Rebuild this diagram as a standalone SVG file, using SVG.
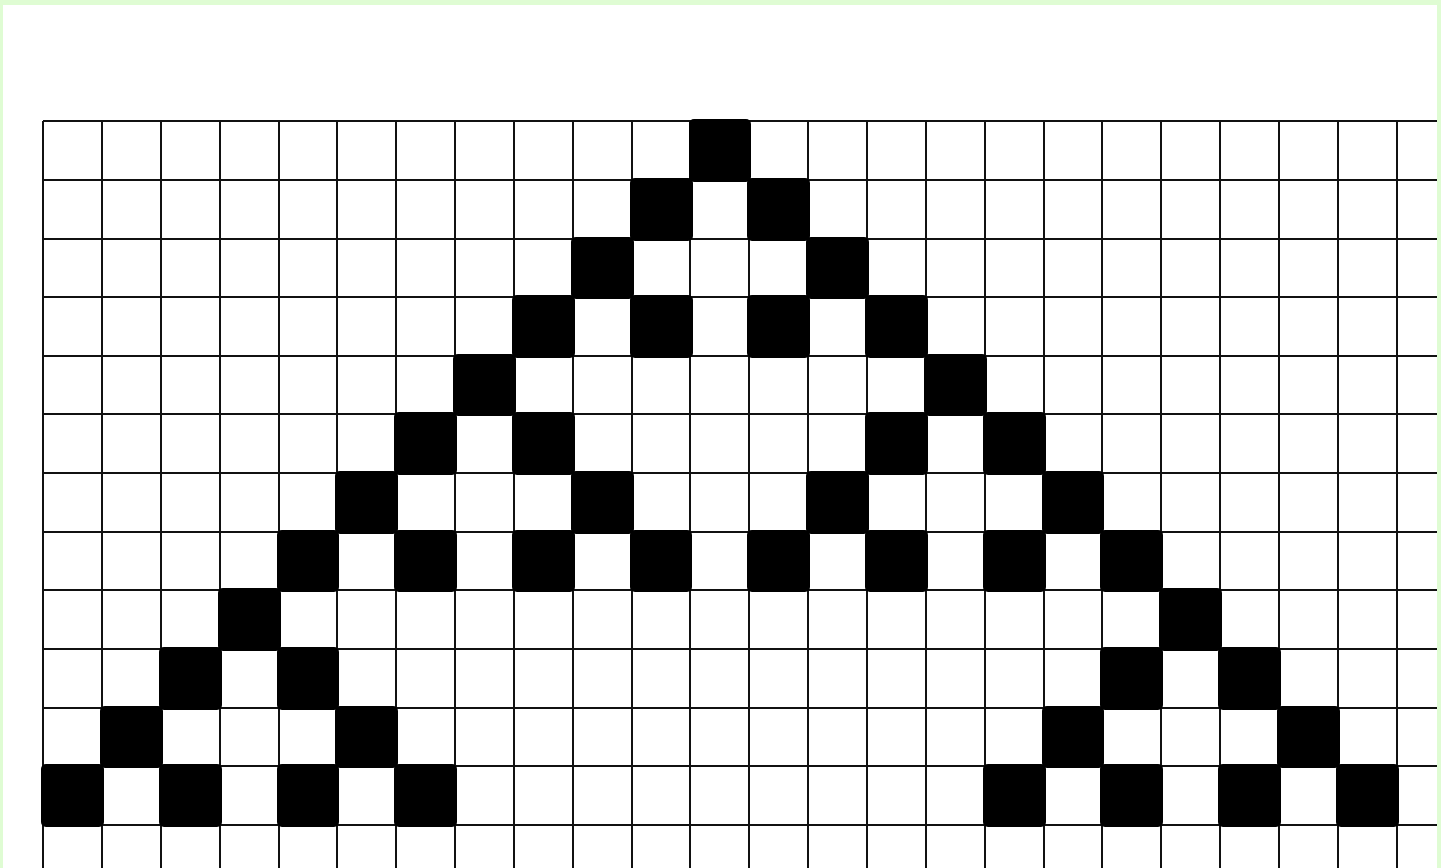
<svg xmlns="http://www.w3.org/2000/svg" width="1441" height="868" viewBox="0 0 1441 868">
<style>
.g line{stroke:#111;stroke-width:2}
.c{fill:#000;stroke:#000;stroke-width:2;stroke-linejoin:round}
</style>
<rect x="0" y="0" width="1441" height="868" fill="#dffcd3"/>
<rect x="3" y="5" width="1434" height="863" fill="#fff"/>
<g id="grid" class="g">
<line x1="43" y1="121" x2="1437" y2="121"/>
<line x1="43" y1="180" x2="1437" y2="180"/>
<line x1="43" y1="239" x2="1437" y2="239"/>
<line x1="43" y1="297" x2="1437" y2="297"/>
<line x1="43" y1="356" x2="1437" y2="356"/>
<line x1="43" y1="414" x2="1437" y2="414"/>
<line x1="43" y1="473" x2="1437" y2="473"/>
<line x1="43" y1="532" x2="1437" y2="532"/>
<line x1="43" y1="590" x2="1437" y2="590"/>
<line x1="43" y1="649" x2="1437" y2="649"/>
<line x1="43" y1="708" x2="1437" y2="708"/>
<line x1="43" y1="766" x2="1437" y2="766"/>
<line x1="43" y1="825" x2="1437" y2="825"/>
<line x1="43" y1="121" x2="43" y2="868"/>
<line x1="102" y1="121" x2="102" y2="868"/>
<line x1="161" y1="121" x2="161" y2="868"/>
<line x1="220" y1="121" x2="220" y2="868"/>
<line x1="279" y1="121" x2="279" y2="868"/>
<line x1="337" y1="121" x2="337" y2="868"/>
<line x1="396" y1="121" x2="396" y2="868"/>
<line x1="455" y1="121" x2="455" y2="868"/>
<line x1="514" y1="121" x2="514" y2="868"/>
<line x1="573" y1="121" x2="573" y2="868"/>
<line x1="632" y1="121" x2="632" y2="868"/>
<line x1="690" y1="121" x2="690" y2="868"/>
<line x1="749" y1="121" x2="749" y2="868"/>
<line x1="808" y1="121" x2="808" y2="868"/>
<line x1="867" y1="121" x2="867" y2="868"/>
<line x1="926" y1="121" x2="926" y2="868"/>
<line x1="985" y1="121" x2="985" y2="868"/>
<line x1="1044" y1="121" x2="1044" y2="868"/>
<line x1="1102" y1="121" x2="1102" y2="868"/>
<line x1="1161" y1="121" x2="1161" y2="868"/>
<line x1="1220" y1="121" x2="1220" y2="868"/>
<line x1="1279" y1="121" x2="1279" y2="868"/>
<line x1="1338" y1="121" x2="1338" y2="868"/>
<line x1="1397" y1="121" x2="1397" y2="868"/>
</g>
<g id="cells">
<rect class="c" x="690" y="120" width="60" height="61" rx="4"/>
<rect class="c" x="631" y="179" width="61" height="61" rx="4"/>
<rect class="c" x="748" y="179" width="61" height="61" rx="4"/>
<rect class="c" x="572" y="238" width="61" height="60" rx="4"/>
<rect class="c" x="807" y="238" width="61" height="60" rx="4"/>
<rect class="c" x="513" y="296" width="61" height="61" rx="4"/>
<rect class="c" x="631" y="296" width="61" height="61" rx="4"/>
<rect class="c" x="748" y="296" width="61" height="61" rx="4"/>
<rect class="c" x="866" y="296" width="61" height="61" rx="4"/>
<rect class="c" x="454" y="355" width="61" height="60" rx="4"/>
<rect class="c" x="925" y="355" width="61" height="60" rx="4"/>
<rect class="c" x="395" y="413" width="61" height="61" rx="4"/>
<rect class="c" x="513" y="413" width="61" height="61" rx="4"/>
<rect class="c" x="866" y="413" width="61" height="61" rx="4"/>
<rect class="c" x="984" y="413" width="61" height="61" rx="4"/>
<rect class="c" x="336" y="472" width="61" height="61" rx="4"/>
<rect class="c" x="572" y="472" width="61" height="61" rx="4"/>
<rect class="c" x="807" y="472" width="61" height="61" rx="4"/>
<rect class="c" x="1043" y="472" width="60" height="61" rx="4"/>
<rect class="c" x="278" y="531" width="60" height="60" rx="4"/>
<rect class="c" x="395" y="531" width="61" height="60" rx="4"/>
<rect class="c" x="513" y="531" width="61" height="60" rx="4"/>
<rect class="c" x="631" y="531" width="60" height="60" rx="4"/>
<rect class="c" x="748" y="531" width="61" height="60" rx="4"/>
<rect class="c" x="866" y="531" width="61" height="60" rx="4"/>
<rect class="c" x="984" y="531" width="61" height="60" rx="4"/>
<rect class="c" x="1101" y="531" width="61" height="60" rx="4"/>
<rect class="c" x="219" y="589" width="61" height="61" rx="4"/>
<rect class="c" x="1160" y="589" width="61" height="61" rx="4"/>
<rect class="c" x="160" y="648" width="61" height="61" rx="4"/>
<rect class="c" x="278" y="648" width="60" height="61" rx="4"/>
<rect class="c" x="1101" y="648" width="61" height="61" rx="4"/>
<rect class="c" x="1219" y="648" width="61" height="61" rx="4"/>
<rect class="c" x="101" y="707" width="61" height="60" rx="4"/>
<rect class="c" x="336" y="707" width="61" height="60" rx="4"/>
<rect class="c" x="1043" y="707" width="60" height="60" rx="4"/>
<rect class="c" x="1278" y="707" width="61" height="60" rx="4"/>
<rect class="c" x="42" y="765" width="61" height="61" rx="4"/>
<rect class="c" x="160" y="765" width="61" height="61" rx="4"/>
<rect class="c" x="278" y="765" width="60" height="61" rx="4"/>
<rect class="c" x="395" y="765" width="61" height="61" rx="4"/>
<rect class="c" x="984" y="765" width="61" height="61" rx="4"/>
<rect class="c" x="1101" y="765" width="61" height="61" rx="4"/>
<rect class="c" x="1219" y="765" width="61" height="61" rx="4"/>
<rect class="c" x="1337" y="765" width="61" height="61" rx="4"/>
</g>
</svg>
